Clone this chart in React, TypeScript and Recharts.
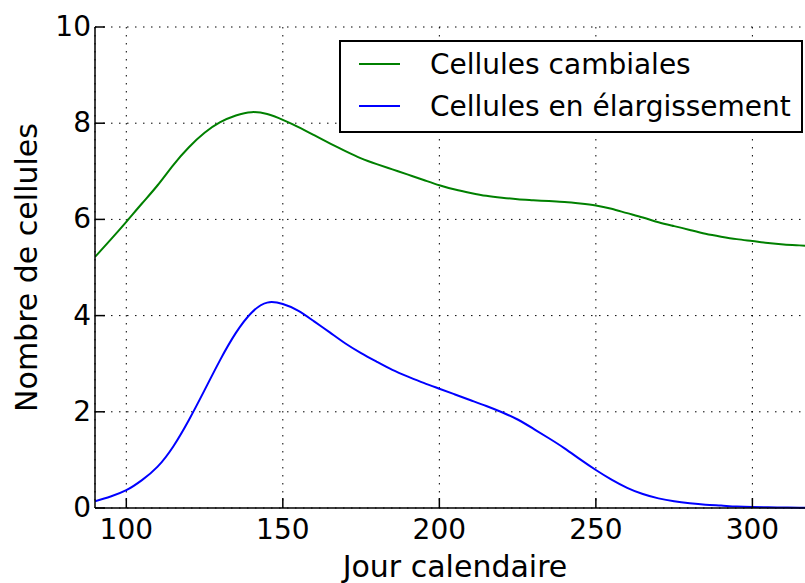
import { CartesianGrid, Legend, Line, LineChart, XAxis, YAxis } from "recharts"

// calendar days sampled every 5 days along both curves
const days = [
  90, 95, 100, 105, 110, 115, 120, 125, 130, 135, 140, 145, 150, 155, 160, 165,
  170, 175, 180, 185, 190, 195, 200, 205, 210, 215, 220, 225, 230, 235, 240, 245,
  250, 255, 260, 265, 270, 275, 280, 285, 290, 295, 300, 305, 310, 315, 320,
]
const cambiales = [
  5.22, 5.58, 5.95, 6.33, 6.71, 7.13, 7.5, 7.8, 8.02, 8.16, 8.23, 8.19, 8.07, 7.92, 7.75, 7.58,
  7.42, 7.27, 7.15, 7.04, 6.93, 6.82, 6.71, 6.62, 6.55, 6.49, 6.45, 6.42, 6.4, 6.38, 6.36, 6.33,
  6.29, 6.22, 6.13, 6.04, 5.94, 5.86, 5.78, 5.7, 5.64, 5.59, 5.55, 5.51, 5.48, 5.46, 5.44,
]
const elargissement = [
  0.14, 0.24, 0.37, 0.58, 0.86, 1.28, 1.83, 2.45, 3.08, 3.64, 4.06, 4.27, 4.24, 4.1, 3.88, 3.65,
  3.42, 3.22, 3.04, 2.87, 2.73, 2.6, 2.48, 2.36, 2.24, 2.12, 1.99, 1.84, 1.65, 1.45, 1.24, 1.01,
  0.79, 0.59, 0.42, 0.29, 0.2, 0.14, 0.1, 0.07, 0.05, 0.03, 0.02, 0.015, 0.01, 0.007, 0.005,
]
const seriesNames = ["Cellules cambiales", "Cellules en élargissement"]
const seriesColors = ["#008000", "#0000ff"]
const xTicks = [100, 150, 200, 250, 300]
const yTicks = [0, 2, 4, 6, 8, 10]

const data = days.map((day, i) => ({
  day,
  cambiales: cambiales[i],
  elargissement: elargissement[i],
}))

const FONT = "DejaVu Sans"

function BottomTick({ x, y, payload }: any) {
  return (
    <g>
      <line x1={x} x2={x} y1={y} y2={y - 10} stroke="#000" strokeWidth={1.5} />
      <text x={x} y={y + 31} textAnchor="middle" fontSize={28} fill="#000" fontFamily={FONT}>
        {payload.value}
      </text>
    </g>
  )
}

function TopTick({ x, y }: any) {
  return <line x1={x} x2={x} y1={y} y2={y + 10} stroke="#000" strokeWidth={1.5} />
}

function LeftTick({ x, y, payload }: any) {
  return (
    <g>
      <line x1={x} x2={x + 10} y1={y} y2={y} stroke="#000" strokeWidth={1.5} />
      <text x={x - 4} y={y + 9} textAnchor="end" fontSize={28} fill="#000" fontFamily={FONT}>
        {payload.value}
      </text>
    </g>
  )
}

function LegendBox() {
  return (
    <svg width={464} height={93} style={{ display: "block" }}>
      <rect x={1} y={1} width={462} height={91} fill="#fff" stroke="#000" strokeWidth={2} />
      {seriesNames.map((name, i) => (
        <g key={name}>
          <line x1={20} x2={61} y1={24 + i * 42} y2={24 + i * 42} stroke={seriesColors[i]} strokeWidth={2} />
          <text x={91} y={34 + i * 42} fontSize={28} fill="#000" fontFamily={FONT}>
            {name}
          </text>
        </g>
      ))}
    </svg>
  )
}

export default function App() {
  return (
    <div
      style={{
        position: "absolute",
        left: 0,
        top: 0,
        width: 805,
        height: 583,
        overflow: "hidden",
        background: "#fff",
        fontFamily: FONT,
      }}
    >
      <LineChart width={830} height={583} data={data} margin={{ top: 27, right: 15, bottom: 0, left: 0 }}>
        <CartesianGrid stroke="#000" strokeWidth={1} strokeDasharray="1.5 6.5" />
        <XAxis
          dataKey="day"
          type="number"
          domain={[90, 320]}
          ticks={xTicks}
          allowDataOverflow
          height={75}
          tickSize={0}
          tickMargin={0}
          tickLine={false}
          tick={<BottomTick />}
          axisLine={{ stroke: "#000", strokeWidth: 1.5 }}
          label={{
            value: "Jour calendaire",
            position: "insideBottom",
            offset: 6,
            fontSize: 30,
            fill: "#000",
            fontFamily: FONT,
          }}
        />
        <XAxis
          xAxisId="top"
          orientation="top"
          dataKey="day"
          type="number"
          domain={[90, 320]}
          ticks={xTicks}
          allowDataOverflow
          height={0}
          tickSize={0}
          tickMargin={0}
          tickLine={false}
          tick={<TopTick />}
          axisLine={{ stroke: "#000", strokeWidth: 1.5 }}
        />
        <YAxis
          type="number"
          domain={[0, 10]}
          ticks={yTicks}
          width={95}
          tickSize={0}
          tickMargin={0}
          tickLine={false}
          tick={<LeftTick />}
          axisLine={{ stroke: "#000", strokeWidth: 1.5 }}
          label={({ viewBox }: any) => (
            <text
              x={37}
              y={viewBox.y + viewBox.height / 2}
              transform={`rotate(-90, 37, ${viewBox.y + viewBox.height / 2})`}
              textAnchor="middle"
              fontSize={30}
              fill="#000"
              fontFamily={FONT}
            >
              Nombre de cellules
            </text>
          )}
        />
        <Legend
          layout="vertical"
          align="center"
          verticalAlign="middle"
          wrapperStyle={{ left: 339, top: 40, width: 464, height: 93 }}
          content={() => <LegendBox />}
        />
        <Line
          type="natural"
          dataKey="cambiales"
          name={seriesNames[0]}
          stroke={seriesColors[0]}
          strokeWidth={2}
          dot={false}
          isAnimationActive={false}
        />
        <Line
          type="natural"
          dataKey="elargissement"
          name={seriesNames[1]}
          stroke={seriesColors[1]}
          strokeWidth={2}
          dot={false}
          isAnimationActive={false}
        />
      </LineChart>
    </div>
  )
}
